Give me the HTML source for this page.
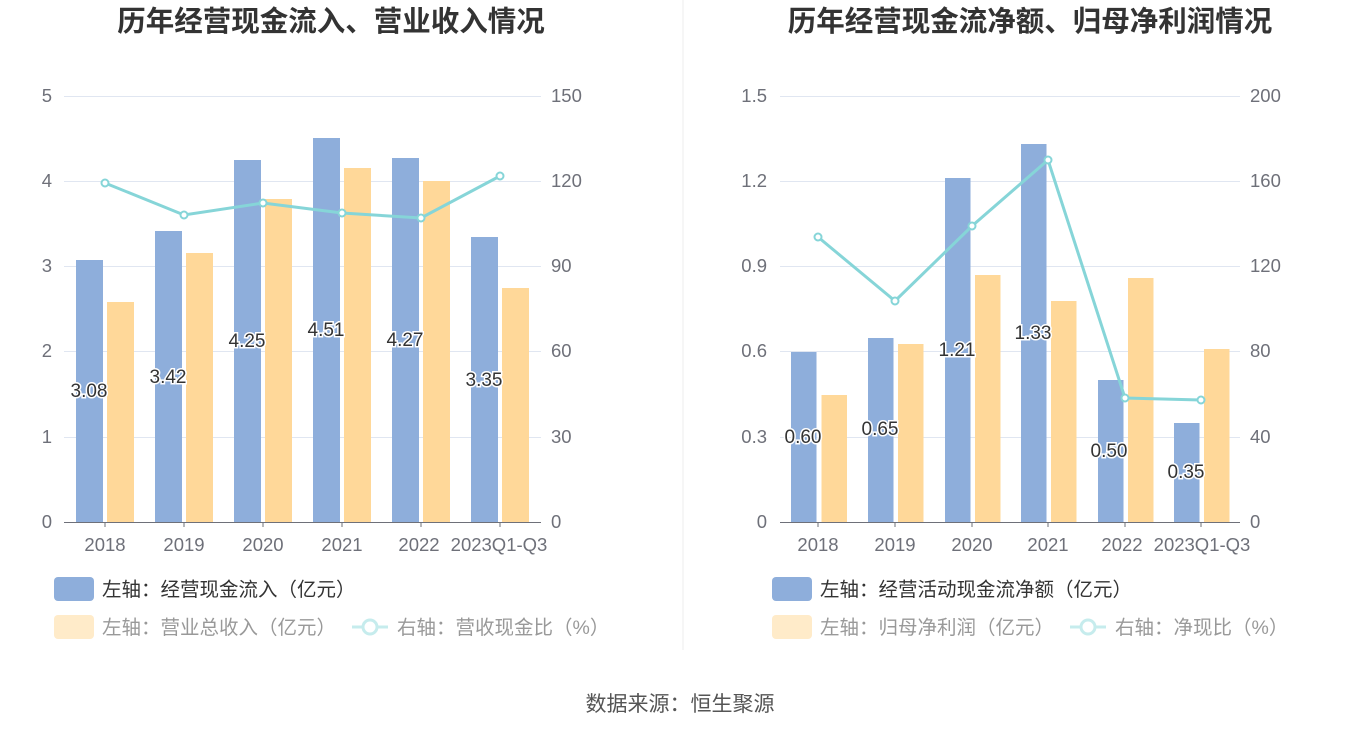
<!DOCTYPE html>
<html><head><meta charset="utf-8"><style>
html,body{margin:0;padding:0;background:#fff;}
svg{display:block;font-family:"Liberation Sans","Noto Sans CJK SC",sans-serif;}
.t{font-size:28.5px;font-weight:bold;fill:#333;text-anchor:middle}
.ax{font-size:18.5px;fill:#6e7079}
.lg{font-size:19.5px}
.vl{font-size:19px;fill:#333;stroke:#fff;stroke-width:3;paint-order:stroke;text-anchor:middle}
</style></head><body>
<svg width="1360" height="734" viewBox="0 0 1360 734">
<line x1="683" y1="0" x2="683" y2="650" stroke="#eee"/>
<text class="t" x="331" y="31">历年经营现金流入、营业收入情况</text>
<text class="t" x="1030" y="31">历年经营现金流净额、归母净利润情况</text>

<!-- LEFT -->
<g stroke="#e0e6f1">
<line x1="64" y1="96.5" x2="541" y2="96.5"/><line x1="64" y1="181.5" x2="541" y2="181.5"/>
<line x1="64" y1="266.5" x2="541" y2="266.5"/><line x1="64" y1="351.5" x2="541" y2="351.5"/>
<line x1="64" y1="437.5" x2="541" y2="437.5"/>
</g>
<g class="ax" text-anchor="end">
<text x="52" y="102">5</text><text x="52" y="187">4</text><text x="52" y="272">3</text><text x="52" y="357">2</text><text x="52" y="443">1</text><text x="52" y="528">0</text>
</g>
<g class="ax">
<text x="551" y="102">150</text><text x="551" y="187">120</text><text x="551" y="272">90</text><text x="551" y="357">60</text><text x="551" y="443">30</text><text x="551" y="528">0</text>
</g>
<g fill="#8eaedb">
<rect x="76" y="260" width="27" height="262"/><rect x="155" y="231" width="27" height="291"/>
<rect x="234" y="160" width="27" height="362"/><rect x="313" y="138" width="27" height="384"/>
<rect x="392" y="158" width="27" height="364"/><rect x="471" y="237" width="27" height="285"/>
</g>
<g fill="#ffd899">
<rect x="107" y="302" width="27" height="220"/><rect x="186" y="253" width="27" height="269"/>
<rect x="265" y="199" width="27" height="323"/><rect x="344" y="168" width="27" height="354"/>
<rect x="423" y="181" width="27" height="341"/><rect x="502" y="288" width="27" height="234"/>
</g>
<line x1="64" y1="522.5" x2="541" y2="522.5" stroke="#6e7079"/>
<g stroke="#6e7079"><line x1="105" y1="522" x2="105" y2="527"/><line x1="184" y1="522" x2="184" y2="527"/><line x1="263" y1="522" x2="263" y2="527"/><line x1="342" y1="522" x2="342" y2="527"/><line x1="421" y1="522" x2="421" y2="527"/><line x1="500" y1="522" x2="500" y2="527"/></g>
<g class="ax" text-anchor="middle">
<text x="105" y="551">2018</text><text x="184" y="551">2019</text><text x="263" y="551">2020</text><text x="342" y="551">2021</text><text x="419" y="551">2022</text><text x="499" y="551">2023Q1-Q3</text>
</g>
<polyline points="105,183 184,215 263,203 342,213 421,218 500,176" fill="none" stroke="#86d5d8" stroke-width="3"/>
<g fill="#fff" stroke="#86d5d8" stroke-width="2">
<circle cx="105" cy="183" r="3.5"/><circle cx="184" cy="215" r="3.5"/><circle cx="263" cy="203" r="3.5"/><circle cx="342" cy="213" r="3.5"/><circle cx="421" cy="218" r="3.5"/><circle cx="500" cy="176" r="3.5"/>
</g>
<g class="vl">
<text x="89" y="397">3.08</text><text x="168" y="383">3.42</text><text x="247" y="347">4.25</text><text x="326" y="336">4.51</text><text x="405" y="346">4.27</text><text x="484" y="386">3.35</text>
</g>
<rect x="54" y="577" width="40" height="24" rx="4" fill="#8eaedb"/>
<text class="lg" x="102" y="596" fill="#333">左轴：经营现金流入（亿元）</text>
<rect x="54" y="615" width="40" height="24" rx="4" fill="#ffebc9"/>
<text class="lg" x="102" y="634" fill="#999">左轴：营业总收入（亿元）</text>
<line x1="352" y1="627" x2="388" y2="627" stroke="#c6eced" stroke-width="3"/><circle cx="370" cy="627" r="7" fill="#fff" stroke="#c6eced" stroke-width="3"/>
<text class="lg" x="397" y="634" fill="#999">右轴：营收现金比（%）</text>

<!-- RIGHT -->
<g stroke="#e0e6f1">
<line x1="780" y1="96.5" x2="1240" y2="96.5"/><line x1="780" y1="181.5" x2="1240" y2="181.5"/>
<line x1="780" y1="266.5" x2="1240" y2="266.5"/><line x1="780" y1="351.5" x2="1240" y2="351.5"/>
<line x1="780" y1="437.5" x2="1240" y2="437.5"/>
</g>
<g class="ax" text-anchor="end">
<text x="767" y="102">1.5</text><text x="767" y="187">1.2</text><text x="767" y="272">0.9</text><text x="767" y="357">0.6</text><text x="767" y="443">0.3</text><text x="767" y="528">0</text>
</g>
<g class="ax">
<text x="1250" y="102">200</text><text x="1250" y="187">160</text><text x="1250" y="272">120</text><text x="1250" y="357">80</text><text x="1250" y="443">40</text><text x="1250" y="528">0</text>
</g>
<g fill="#8eaedb">
<rect x="791" y="352" width="25.5" height="170"/><rect x="868" y="338" width="25.5" height="184"/>
<rect x="945" y="178" width="25.5" height="344"/><rect x="1021" y="144" width="25.5" height="378"/>
<rect x="1098" y="380" width="25.5" height="142"/><rect x="1174" y="423" width="25.5" height="99"/>
</g>
<g fill="#ffd899">
<rect x="821.5" y="395" width="25.5" height="127"/><rect x="898" y="344" width="25.5" height="178"/>
<rect x="975" y="275" width="25.5" height="247"/><rect x="1051" y="301" width="25.5" height="221"/>
<rect x="1128" y="278" width="25.5" height="244"/><rect x="1204" y="349" width="25.5" height="173"/>
</g>
<line x1="780" y1="522.5" x2="1240" y2="522.5" stroke="#6e7079"/>
<g stroke="#6e7079"><line x1="818" y1="522" x2="818" y2="527"/><line x1="895" y1="522" x2="895" y2="527"/><line x1="972" y1="522" x2="972" y2="527"/><line x1="1048" y1="522" x2="1048" y2="527"/><line x1="1125" y1="522" x2="1125" y2="527"/><line x1="1201" y1="522" x2="1201" y2="527"/></g>
<g class="ax" text-anchor="middle">
<text x="818" y="551">2018</text><text x="895" y="551">2019</text><text x="972" y="551">2020</text><text x="1048" y="551">2021</text><text x="1122" y="551">2022</text><text x="1202" y="551">2023Q1-Q3</text>
</g>
<polyline points="818,237 895,301 972,226 1048,160 1125,398 1201,400" fill="none" stroke="#86d5d8" stroke-width="3"/>
<g fill="#fff" stroke="#86d5d8" stroke-width="2">
<circle cx="818" cy="237" r="3.5"/><circle cx="895" cy="301" r="3.5"/><circle cx="972" cy="226" r="3.5"/><circle cx="1048" cy="160" r="3.5"/><circle cx="1125" cy="398" r="3.5"/><circle cx="1201" cy="400" r="3.5"/>
</g>
<g class="vl">
<text x="803" y="443">0.60</text><text x="880" y="435">0.65</text><text x="957" y="356">1.21</text><text x="1033" y="339">1.33</text><text x="1109" y="457">0.50</text><text x="1186" y="478">0.35</text>
</g>
<rect x="772" y="577" width="40" height="24" rx="4" fill="#8eaedb"/>
<text class="lg" x="820" y="596" fill="#333">左轴：经营活动现金流净额（亿元）</text>
<rect x="772" y="615" width="40" height="24" rx="4" fill="#ffebc9"/>
<text class="lg" x="820" y="634" fill="#999">左轴：归母净利润（亿元）</text>
<line x1="1070" y1="627" x2="1106" y2="627" stroke="#c6eced" stroke-width="3"/><circle cx="1088" cy="627" r="7" fill="#fff" stroke="#c6eced" stroke-width="3"/>
<text class="lg" x="1115" y="634" fill="#999">右轴：净现比（%）</text>

<text x="680" y="711" font-size="21" fill="#555" text-anchor="middle">数据来源：恒生聚源</text>
</svg>
</body></html>
